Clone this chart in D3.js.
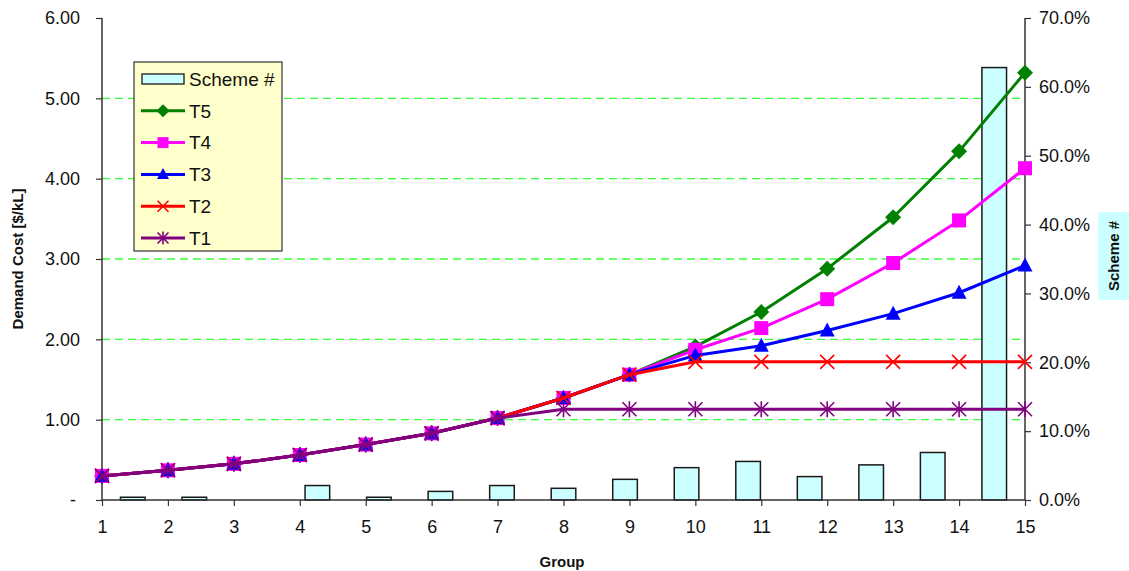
<!DOCTYPE html>
<html>
<head>
<meta charset="utf-8">
<script src="https://cdn.jsdelivr.net/npm/d3@7/dist/d3.min.js"></script>
<style>
  html, body { margin: 0; padding: 0; background: #fff; }
  svg { display: block; font-family: "Liberation Sans", Arial, sans-serif; }
</style>
</head>
<body>
<svg id="chart" width="1129" height="571"></svg>
<script>
// Groups along the horizontal axis
const groups = [1, 2, 3, 4, 5, 6, 7, 8, 9, 10, 11, 12, 13, 14, 15];

// Scheme # share per group (percent, right axis)
const schemeShare = [0.4, 0.4, 0, 2.1, 0.4, 1.25, 2.1, 1.7, 3.0, 4.7, 5.6, 3.4, 5.1, 6.9, 62.8];

// Demand cost per tariff [$/kL] (left axis)
const t5 = [0.30, 0.37, 0.45, 0.56, 0.69, 0.83, 1.02, 1.27, 1.56, 1.91, 2.34, 2.88, 3.52, 4.34, 5.32];
const t4 = [0.30, 0.37, 0.45, 0.56, 0.69, 0.83, 1.02, 1.27, 1.56, 1.87, 2.14, 2.50, 2.95, 3.48, 4.13];
const t3 = [0.30, 0.37, 0.45, 0.56, 0.69, 0.83, 1.02, 1.27, 1.56, 1.80, 1.92, 2.11, 2.32, 2.58, 2.92];
const t2 = [0.30, 0.37, 0.45, 0.56, 0.69, 0.83, 1.02, 1.27, 1.56, 1.72, 1.72, 1.72, 1.72, 1.72, 1.72];
const t1 = [0.30, 0.37, 0.45, 0.56, 0.69, 0.83, 1.02, 1.13, 1.13, 1.13, 1.13, 1.13, 1.13, 1.13, 1.13];

// Axis tick values
const leftTicks = [0, 1, 2, 3, 4, 5, 6];
const rightTicks = [0, 10, 20, 30, 40, 50, 60, 70];
const gridTicks = [1, 2, 3, 4, 5];

const seriesNames = ["T5", "T4", "T3", "T2", "T1"];
const seriesValues = [t5, t4, t3, t2, t1];
const seriesColors = ["#008000", "#ff00ff", "#0000ff", "#ff0000", "#800080"];
const seriesMarkers = ["diamond", "square", "triangle", "cross", "asterisk"];

const svg = d3.select("#chart");
const plot = { left: 102, right: 1025, top: 18, bottom: 500 };

const x = d3.scalePoint().domain(groups).range([plot.left, plot.right]);
const xBand = d3.scaleBand().domain(groups).range([plot.left, plot.right])
  .paddingInner(0.6).paddingOuter(0.3);
const y = d3.scaleLinear().domain([0, 6]).range([plot.bottom, plot.top]);
const y2 = d3.scaleLinear().domain([0, 70]).range([plot.bottom, plot.top]);

// Dashed horizontal gridlines
svg.append("g").selectAll("line").data(gridTicks).join("line")
  .attr("x1", plot.left).attr("x2", plot.right)
  .attr("y1", d => y(d)).attr("y2", d => y(d))
  .attr("stroke", "#33ff33").attr("stroke-width", 1.3)
  .attr("stroke-dasharray", "8,5");

// Scheme # columns on the secondary axis
svg.append("g").selectAll("rect").data(groups.map((g, i) => ({ g, v: schemeShare[i] })).filter(d => d.v > 0))
  .join("rect")
  .attr("x", d => xBand(d.g)).attr("width", xBand.bandwidth())
  .attr("y", d => y2(d.v)).attr("height", d => y2(0) - y2(d.v))
  .attr("fill", "#ccffff").attr("stroke", "#1a1a1a").attr("stroke-width", 1.5);

// Axes
const axisColor = "#333";
const leftAxis = d3.axisLeft(y).tickValues(leftTicks).tickSize(6).tickPadding(16)
  .tickFormat(d => d === 0 ? "-" : d3.format(".2f")(d));
const gl = svg.append("g").attr("transform", `translate(${plot.left},0)`).call(leftAxis);

const rightAxis = d3.axisRight(y2).tickValues(rightTicks).tickSize(6).tickPadding(8)
  .tickFormat(d => d3.format(".1f")(d) + "%");
const gr = svg.append("g").attr("transform", `translate(${plot.right},0)`).call(rightAxis);

const bottomAxis = d3.axisBottom(x).tickSize(6).tickPadding(14);
const gb = svg.append("g").attr("transform", `translate(0,${plot.bottom})`).call(bottomAxis);

[gl, gr, gb].forEach(g => {
  g.select(".domain").attr("stroke", axisColor).attr("stroke-width", 1.5);
  g.selectAll(".tick line").attr("stroke", axisColor).attr("stroke-width", 1.2);
  g.selectAll(".tick text").attr("fill", "#111").attr("font-size", 18)
    .attr("font-family", "Liberation Sans, Arial, sans-serif");
});
gl.select(".domain").attr("d", `M0,${plot.bottom}V${plot.top}`);
gr.select(".domain").attr("d", `M0,${plot.bottom}V${plot.top}`);
gb.select(".domain").attr("d", `M${plot.left},0H${plot.right}`);
gl.selectAll(".tick text").filter(d => d === 0).attr("dx", -4);

// Marker shapes
function drawMarker(g, type, color, s) {
  const h = s / 2;
  if (type === "diamond") {
    g.append("path").attr("d", `M0,${-h - 1}L${h + 1},0L0,${h + 1}L${-h - 1},0Z`).attr("fill", color);
  } else if (type === "square") {
    g.append("rect").attr("x", -h).attr("y", -h).attr("width", s).attr("height", s).attr("fill", color);
  } else if (type === "triangle") {
    g.append("path").attr("d", `M0,${-h - 1}L${h + 0.5},${h - 1}L${-h - 0.5},${h - 1}Z`).attr("fill", color);
  } else if (type === "cross") {
    g.append("path").attr("d", `M${-h},${-h}L${h},${h}M${-h},${h}L${h},${-h}`)
      .attr("stroke", color).attr("stroke-width", 1.6).attr("fill", "none");
  } else if (type === "asterisk") {
    g.append("path").attr("d", `M${-h},${-h}L${h},${h}M${-h},${h}L${h},${-h}M0,${-h - 1}L0,${h + 1}`)
      .attr("stroke", color).attr("stroke-width", 1.6).attr("fill", "none");
  }
}

const line = d3.line().x((d, i) => x(groups[i])).y(d => y(d));

seriesValues.forEach((vals, k) => {
  const g = svg.append("g");
  g.append("path").datum(vals).attr("d", line)
    .attr("fill", "none").attr("stroke", seriesColors[k]).attr("stroke-width", 3)
    .attr("stroke-linejoin", "round");
  vals.forEach((v, i) => {
    const m = g.append("g").attr("transform", `translate(${x(groups[i])},${y(v)})`);
    drawMarker(m, seriesMarkers[k], seriesColors[k], 14);
  });
});

// Axis titles
svg.append("text").attr("x", 562).attr("y", 567).attr("text-anchor", "middle")
  .attr("font-weight", "bold").attr("font-size", 15).attr("fill", "#111").text("Group");
svg.append("text").attr("transform", `translate(23,${(plot.top + plot.bottom) / 2}) rotate(-90)`)
  .attr("text-anchor", "middle").attr("font-weight", "bold").attr("font-size", 15)
  .attr("fill", "#111").text("Demand Cost [$/kL]");

// Secondary axis title on a tinted panel
svg.append("rect").attr("x", 1098).attr("y", 212).attr("width", 31).attr("height", 88).attr("fill", "#ccffff");
svg.append("text").attr("transform", `translate(1119,256) rotate(-90)`)
  .attr("text-anchor", "middle").attr("font-weight", "bold").attr("font-size", 15)
  .attr("fill", "#111").text("Scheme #");

// Legend
const legend = svg.append("g").attr("transform", "translate(134,62)");
legend.append("rect").attr("width", 148).attr("height", 189)
  .attr("fill", "#ffffcc").attr("stroke", "#333").attr("stroke-width", 1.2);
const rowY = i => 17 + i * 31.8;
legend.append("rect").attr("x", 8).attr("y", rowY(0) - 5).attr("width", 42).attr("height", 10)
  .attr("fill", "#ccffff").attr("stroke", "#1a1a1a").attr("stroke-width", 1.3);
legend.append("text").attr("x", 55).attr("y", rowY(0)).attr("dy", "0.36em")
  .attr("font-size", 19).attr("fill", "#111").text("Scheme #");
seriesNames.forEach((name, k) => {
  const yy = rowY(k + 1);
  legend.append("line").attr("x1", 7).attr("x2", 51).attr("y1", yy).attr("y2", yy)
    .attr("stroke", seriesColors[k]).attr("stroke-width", 3);
  const m = legend.append("g").attr("transform", `translate(29,${yy})`);
  drawMarker(m, seriesMarkers[k], seriesColors[k], 11);
  legend.append("text").attr("x", 55).attr("y", yy).attr("dy", "0.36em")
    .attr("font-size", 19).attr("fill", "#111").text(name);
});
</script>
</body>
</html>
